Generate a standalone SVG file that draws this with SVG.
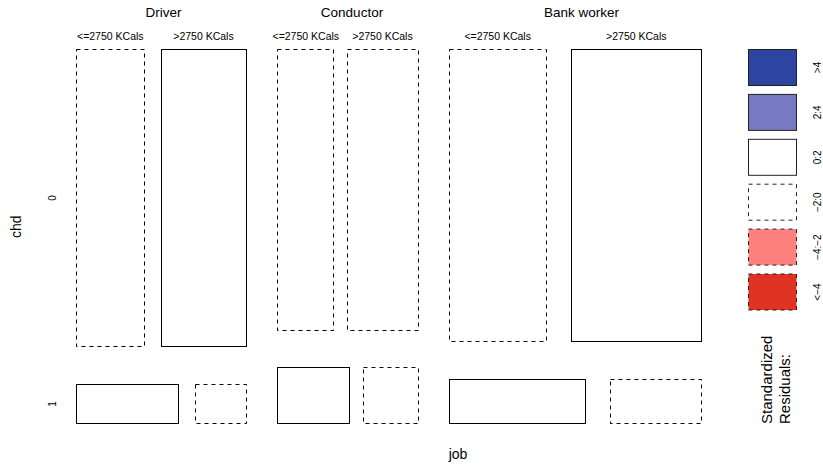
<svg xmlns="http://www.w3.org/2000/svg" width="823" height="466" viewBox="0 0 823 466">
<style>
text{font-family:"Liberation Sans",Arial,sans-serif;fill:#000}
.t{font-size:13.5px;text-anchor:middle}
.s{font-size:10.5px;text-anchor:middle}
.ax{font-size:14px;text-anchor:middle}
.lv{font-size:10px;text-anchor:middle}
.sol{fill:#fff;stroke:#000;stroke-width:1}
.das{fill:#fff;stroke:#000;stroke-width:1;stroke-dasharray:4 4}
.lg{stroke:#222;stroke-width:1}
</style>
<rect width="823" height="466" fill="#fff"/>
<g id="labels">
<text class="t" x="163.5" y="17">Driver</text>
<text class="t" x="352" y="17">Conductor</text>
<text class="t" x="581.5" y="17">Bank worker</text>
<text class="s" x="110.3" y="39.5">&lt;=2750 KCals</text>
<text class="s" x="203.5" y="39.5">&gt;2750 KCals</text>
<text class="s" x="305.8" y="39.5">&lt;=2750 KCals</text>
<text class="s" x="382.5" y="39.5">&gt;2750 KCals</text>
<text class="s" x="497.7" y="39.5">&lt;=2750 KCals</text>
<text class="s" x="636.3" y="39.5">&gt;2750 KCals</text>
<text class="ax" x="458" y="459">job</text>
<text class="ax" transform="translate(20.5,226.7) rotate(-90)">chd</text>
<text class="lv" transform="translate(55.5,198) rotate(-90)">0</text>
<text class="lv" transform="translate(55.5,404) rotate(-90)">1</text>
</g>
<g id="tiles">
<rect id="d_lo_0" class="das" x="76.5" y="49.5" width="68" height="297"/>
<rect id="d_hi_0" class="sol" x="161.5" y="49.5" width="85" height="297"/>
<rect id="c_lo_0" class="das" x="277.5" y="49.5" width="56" height="281"/>
<rect id="c_hi_0" class="das" x="347.5" y="49.5" width="71" height="281"/>
<rect id="b_lo_0" class="das" x="449.5" y="49.5" width="97" height="292"/>
<rect id="b_hi_0" class="sol" x="571.5" y="49.5" width="130" height="292"/>
<rect id="d_lo_1" class="sol" x="76.5" y="384.5" width="102" height="39"/>
<rect id="d_hi_1" class="das" x="195.5" y="384.5" width="51" height="39"/>
<rect id="c_lo_1" class="sol" x="277.5" y="367.5" width="72" height="56"/>
<rect id="c_hi_1" class="das" x="363.5" y="367.5" width="55" height="56"/>
<rect id="b_lo_1" class="sol" x="449.5" y="379.5" width="136" height="44"/>
<rect id="b_hi_1" class="das" x="610.5" y="379.5" width="91" height="44"/>
</g>
<g id="legend">
<rect class="lg" x="748.5" y="49.5" width="48" height="36" fill="#2d44a0"/>
<rect class="lg" x="748.5" y="94.4" width="48" height="36" fill="#7779c3"/>
<rect class="lg" x="748.5" y="139.3" width="48" height="36" fill="#fff"/>
<rect class="lg" x="748.5" y="184.2" width="48" height="36" fill="#fff" stroke-dasharray="4 4"/>
<rect class="lg" x="748.5" y="229.1" width="48" height="36" fill="#fe8180" stroke-dasharray="4 4"/>
<rect class="lg" x="748.5" y="274" width="48" height="36" fill="#e03325" stroke-dasharray="4 4"/>
<text class="lv" transform="translate(821,67.5) rotate(-90)">&gt;4</text>
<text class="lv" transform="translate(821,112.4) rotate(-90)">2:4</text>
<text class="lv" transform="translate(821,157.3) rotate(-90)">0:2</text>
<text class="lv" transform="translate(821,202.2) rotate(-90)">−2:0</text>
<text class="lv" transform="translate(821,247.1) rotate(-90)">−4:−2</text>
<text class="lv" transform="translate(821,292) rotate(-90)">&lt;−4</text>
<text style="font-size:15px" transform="translate(772,424) rotate(-90)">Standardized</text>
<text style="font-size:15px" transform="translate(790,424) rotate(-90)">Residuals:</text>
</g>
</svg>
